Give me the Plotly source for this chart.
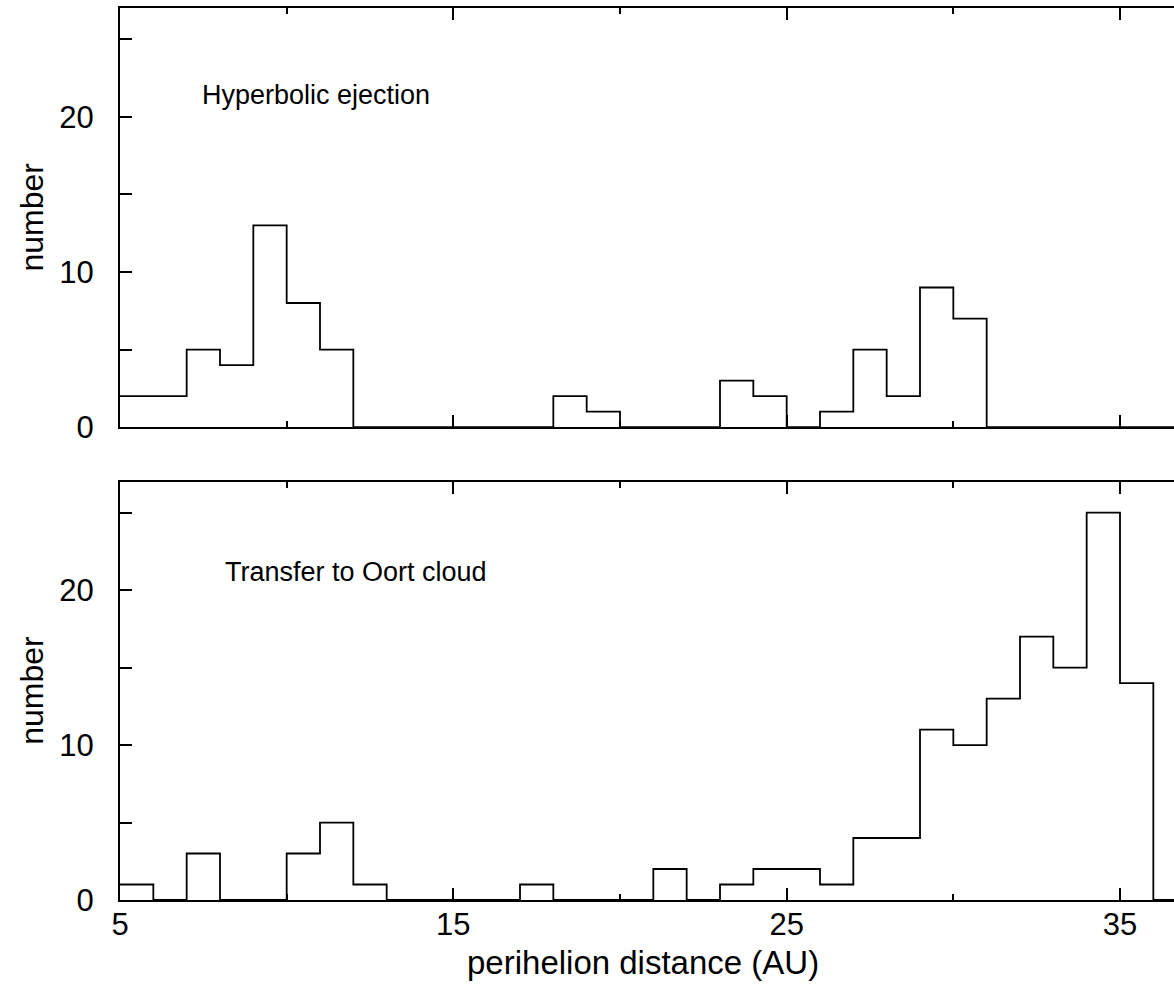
import plotly.graph_objects as go

# bin left edges (AU), bins are 1 AU wide
bin_left = list(range(5, 36))
# Hyperbolic ejection counts
hyperbolic = [2, 2, 5, 4, 13, 8, 5, 0, 0, 0, 0, 0, 0, 2, 1, 0, 0, 0, 3, 2, 0, 1, 5, 2, 9, 7, 0, 0, 0, 0, 0]
# Transfer to Oort cloud counts
oort = [1, 0, 3, 0, 0, 3, 5, 1, 0, 0, 0, 0, 1, 0, 0, 0, 2, 0, 1, 2, 2, 1, 4, 4, 11, 10, 13, 17, 15, 25, 14]

x_ticks = [5, 15, 25, 35]
y_ticks = [0, 5, 10, 15, 20, 25]
y_ticktext = ["0", "", "10", "", "20", ""]

X_MAX = 36.62
FONT = "Liberation Sans, Arial, Helvetica, sans-serif"


def step_xy(counts):
    xs = list(bin_left) + [bin_left[-1] + 1, X_MAX]
    ys = list(counts) + [0, 0]
    return xs, ys


fig = go.Figure()
for counts, xa, ya in [(hyperbolic, "x", "y"), (oort, "x2", "y2")]:
    xs, ys = step_xy(counts)
    fig.add_trace(go.Scatter(x=xs, y=ys, mode="lines", line=dict(shape="hv", color="black", width=1.8),
                             xaxis=xa, yaxis=ya, showlegend=False, hoverinfo="skip"))

common_x = dict(range=[5, X_MAX], tickvals=x_ticks, ticks="inside", ticklen=12, tickwidth=1.5,
                tickcolor="black", showline=True, linecolor="black", linewidth=2, mirror="ticks",
                showgrid=False, zeroline=False,
                minor=dict(dtick=5, tick0=5, ticks="inside", ticklen=6, tickwidth=1.5, tickcolor="black",
                           showgrid=False),
                tickfont=dict(family=FONT, size=31, color="black"))
common_y = dict(range=[0, 27], tickvals=y_ticks, ticktext=y_ticktext, ticks="inside", ticklen=12,
                tickwidth=1.5, tickcolor="black", showline=True, linecolor="black", linewidth=2,
                mirror=False, showgrid=False, zeroline=False, ticklabelstandoff=18,
                tickfont=dict(family=FONT, size=31, color="black"))

fig.update_layout(
    width=1174, height=990,
    margin=dict(l=120, r=0, t=8, b=90),
    paper_bgcolor="white", plot_bgcolor="white",
    xaxis=dict(common_x, domain=[0, 1], anchor="y", showticklabels=False),
    yaxis=dict(common_y, domain=[0.53, 1], anchor="x"),
    xaxis2=dict(common_x, domain=[0, 1], anchor="y2", ticklabelstandoff=-4),
    yaxis2=dict(common_y, domain=[0, 0.469], anchor="x2"),
    font=dict(family=FONT, color="black"),
)

fig.add_annotation(x=7.4, y=21.4, xref="x", yref="y", text="Hyperbolic ejection", showarrow=False,
                   xanchor="left", yanchor="middle", font=dict(family=FONT, size=27, color="black"))
fig.add_annotation(x=8.1, y=21.2, xref="x2", yref="y2", text="Transfer to Oort cloud", showarrow=False,
                   xanchor="left", yanchor="middle", font=dict(family=FONT, size=27, color="black"))

# axis titles
for yc in [(0.53 + 1) / 2, 0.469 / 2]:
    fig.add_annotation(x=-(120 - 32) / 1054, y=yc, xref="paper", yref="paper", text="number",
                       showarrow=False, textangle=-90, xanchor="center", yanchor="middle",
                       font=dict(family=FONT, size=32, color="black"))
fig.add_annotation(x=0.496, y=-63 / 892, xref="paper", yref="paper", text="perihelion distance (AU)",
                   showarrow=False, xanchor="center", yanchor="middle",
                   font=dict(family=FONT, size=33, color="black"))

fig.write_html("out.html")
